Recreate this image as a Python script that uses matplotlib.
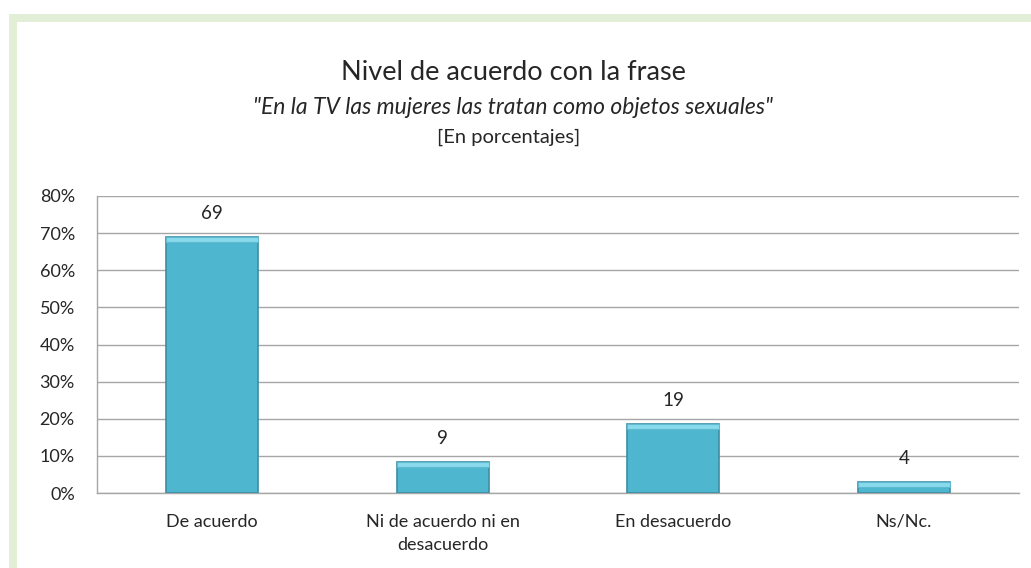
import matplotlib
matplotlib.use("Agg")
import matplotlib.pyplot as plt
from matplotlib.patches import Rectangle
from matplotlib.ticker import FuncFormatter

categories = ["De acuerdo", "Ni de acuerdo ni en\ndesacuerdo", "En desacuerdo", "Ns/Nc."]
values = [68.9, 8.4, 18.6, 3.0]
value_labels = ["69", "9", "19", "4"]
yticks = [0, 10, 20, 30, 40, 50, 60, 70, 80]

title = "Nivel de acuerdo con la frase"
subtitle = "\"En la TV las mujeres las tratan como objetos sexuales\""
note = "[En porcentajes]"

W, H, DPI = 1031, 568, 100
fig = plt.figure(figsize=(W / DPI, H / DPI), dpi=DPI)
fig.patch.set_facecolor("white")

green = "#E2EED6"
fig.patches.append(Rectangle((9 / W, 0), 8 / W, 1 - 14 / H, transform=fig.transFigure,
                             facecolor=green, edgecolor="none", zorder=0))
fig.patches.append(Rectangle((9 / W, 1 - 22 / H), 1 - 9 / W, 8 / H, transform=fig.transFigure,
                             facecolor=green, edgecolor="none", zorder=0))

left, right, top, bottom = 97, 1019, 196, 493
ax = fig.add_axes([left / W, 1 - bottom / H, (right - left) / W, (bottom - top) / H])
ax.set_facecolor("none")

font = ["Lato", "DejaVu Sans"]
txt = "#262626"

x = list(range(len(categories)))
bw = 0.4
main = "#4FB6D0"
ax.bar(x, values, width=bw, color=main, edgecolor="#3C8EA4", linewidth=1.2, zorder=3)
bev = 1.4
ax.bar(x, [bev] * len(values), bottom=[v - bev for v in values], width=bw,
       color="#88DAEC", edgecolor="#5FB9CF", linewidth=0.8, zorder=4)

for xi, v, lab in zip(x, values, value_labels):
    ax.annotate(lab, (xi, v), xytext=(0, 11), textcoords="offset points",
                ha="center", va="bottom", fontsize=13.5, color=txt, family=font)

ax.set_xlim(-0.5, len(categories) - 0.5)
ax.set_ylim(0, 80)
ax.set_yticks(yticks)
ax.yaxis.set_major_formatter(FuncFormatter(lambda v, p: f"{int(v)}%"))
ax.grid(axis="y", color="#A6A6A6", linewidth=1, zorder=0)
ax.set_xticks(x)
ax.set_xticklabels(categories, family=font, fontsize=13, color=txt, linespacing=1.55)
for lbl in ax.get_yticklabels():
    lbl.set_family(font)
    lbl.set_fontsize(13)
    lbl.set_color(txt)
ax.tick_params(axis="both", length=0)
ax.tick_params(axis="x", pad=15)
ax.tick_params(axis="y", pad=16)
for s in ["top", "right"]:
    ax.spines[s].set_visible(False)
for s in ["left", "bottom"]:
    ax.spines[s].set_color("#A6A6A6")
    ax.spines[s].set_linewidth(1)

fig.text(513 / W, 1 - 73 / H, title, ha="center", va="center", fontsize=19.5, color=txt, family=font)
fig.text(513 / W, 1 - 107 / H, subtitle, ha="center", va="center", fontsize=16.5, color=txt,
         family=font, style="italic")
fig.text(509 / W, 1 - 137 / H, note, ha="center", va="center", fontsize=14.5, color=txt, family=font)

fig.savefig("out.png", dpi=DPI, facecolor="white")
